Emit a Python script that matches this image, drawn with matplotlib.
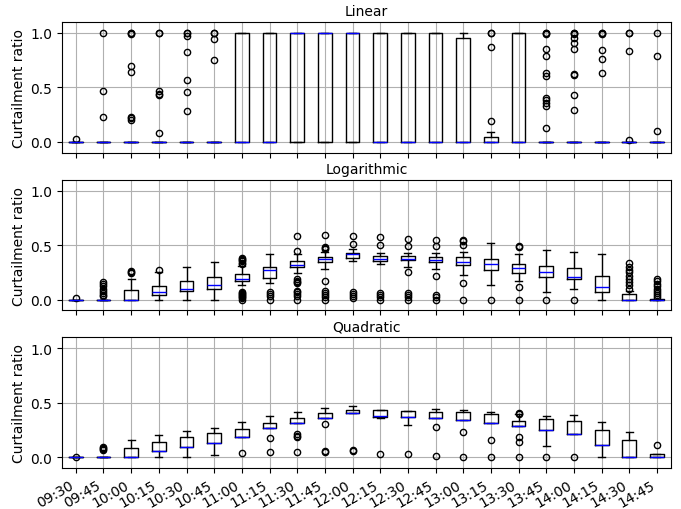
import matplotlib
matplotlib.use("Agg")
import matplotlib.pyplot as plt

times = ["09:30", "09:45", "10:00", "10:15", "10:30", "10:45", "11:00", "11:15",
         "11:30", "11:45", "12:00", "12:15", "12:30", "12:45", "13:00", "13:15",
         "13:30", "13:45", "14:00", "14:15", "14:30", "14:45"]

# Linear
lin_q1 = [0] * 22
lin_med = [0, 0, 0, 0, 0, 0, 0, 0, 1, 1, 1, 0, 0, 0, 0, 0, 0, 0, 0, 0, 0, 0]
lin_q3 = [0, 0, 0, 0, 0, 0, 1, 1, 1, 1, 1, 1, 1, 1, 0.955, 0.046, 1, 0, 0, 0, 0, 0]
lin_lo = [0] * 22
lin_hi = [0, 0, 0, 0, 0, 0, 1, 1, 1, 1, 1, 1, 1, 1, 1, 0.09, 1, 0, 0, 0, 0, 0]
lin_fliers = [
    [0.03],
    [1.0, 0.47, 0.23],
    [1.0, 1.0, 0.985, 0.70, 0.64, 0.23, 0.22, 0.20],
    [1.0, 1.0, 0.47, 0.44, 0.43, 0.08],
    [1.0, 1.0, 0.97, 0.82, 0.57, 0.46, 0.28],
    [1.0, 1.0, 0.94, 0.75],
    [], [], [], [], [], [], [], [], [],
    [1.0, 1.0, 0.87, 0.19],
    [],
    [1.0, 1.0, 0.99, 0.85, 0.79, 0.63, 0.60, 0.40, 0.38, 0.36, 0.33, 0.125],
    [1.0, 1.0, 0.985, 0.955, 0.91, 0.85, 0.62, 0.61, 0.43, 0.29],
    [1.0, 1.0, 0.985, 0.84, 0.76, 0.63],
    [1.0, 1.0, 0.83, 0.02],
    [1.0, 0.79, 0.10],
]

# Logarithmic
log_q1 = [0, 0, 0, 0.04, 0.08, 0.10, 0.17, 0.20, 0.30, 0.345, 0.385, 0.355, 0.36, 0.345,
          0.32, 0.27, 0.245, 0.205, 0.185, 0.07, 0, 0]
log_med = [0, 0, 0, 0.067, 0.098, 0.137, 0.19, 0.27, 0.317, 0.369, 0.415, 0.375, 0.375,
           0.365, 0.345, 0.323, 0.287, 0.253, 0.207, 0.113, 0, 0]
log_q3 = [0, 0, 0.085, 0.128, 0.168, 0.207, 0.235, 0.296, 0.357, 0.387, 0.43, 0.396, 0.40,
          0.387, 0.387, 0.372, 0.33, 0.305, 0.29, 0.216, 0.055, 0.005]
log_lo = [0, 0, 0, 0, 0, 0, 0.134, 0.155, 0.244, 0.28, 0.35, 0.33, 0.30, 0.28, 0.23, 0.134,
          0.168, 0.067, 0.10, 0, 0, 0]
log_hi = [0, 0, 0.19, 0.25, 0.30, 0.345, 0.31, 0.415, 0.42, 0.44, 0.46, 0.43, 0.43, 0.43,
          0.44, 0.515, 0.42, 0.457, 0.44, 0.418, 0.08, 0.005]
log_fliers = [
    [0.015],
    [0.16, 0.14, 0.12, 0.10, 0.08, 0.06, 0.04, 0.03],
    [0.26, 0.25, 0.24],
    [0.27],
    [], [],
    [0.38, 0.37, 0.36, 0.35, 0.34, 0.33, 0.07, 0.06, 0.05, 0.04, 0.03, 0.02, 0.01, 0.0],
    [0.07, 0.05, 0.03, 0.0],
    [0.585, 0.45, 0.19, 0.17, 0.16, 0.15, 0.08, 0.07, 0.05, 0.03, 0.0],
    [0.59, 0.48, 0.47, 0.46, 0.17, 0.08, 0.06, 0.04, 0.02, 0.0],
    [0.585, 0.51, 0.07, 0.05, 0.03, 0.01],
    [0.576, 0.50, 0.06, 0.04, 0.02, 0.0],
    [0.56, 0.49, 0.25, 0.06, 0.04, 0.02, 0.0],
    [0.55, 0.49, 0.22, 0.04, 0.02, 0.0],
    [0.55, 0.54, 0.50, 0.155, 0.0],
    [0.0],
    [0.49, 0.48, 0.113, 0.0],
    [0.0],
    [0.0],
    [],
    [0.34, 0.30, 0.27, 0.25, 0.22, 0.19, 0.16, 0.13, 0.10],
    [0.19, 0.17, 0.14, 0.12, 0.10, 0.08, 0.06, 0.04, 0.02],
]

# Quadratic
quad_q1 = [0, 0, 0, 0.058, 0.095, 0.128, 0.19, 0.266, 0.318, 0.364, 0.404, 0.373, 0.367,
           0.364, 0.345, 0.318, 0.284, 0.248, 0.217, 0.113, 0, 0]
quad_med = [0, 0, 0, 0.058, 0.095, 0.128, 0.19, 0.266, 0.318, 0.364, 0.407, 0.375, 0.367,
            0.364, 0.345, 0.318, 0.284, 0.248, 0.217, 0.113, 0, 0.003]
quad_q3 = [0, 0, 0.089, 0.144, 0.187, 0.226, 0.263, 0.318, 0.364, 0.404, 0.437, 0.431,
           0.428, 0.419, 0.413, 0.394, 0.33, 0.352, 0.333, 0.254, 0.156, 0.028]
quad_lo = [0, 0, 0, 0, 0, 0.018, 0.19, 0.266, 0.318, 0.364, 0.404, 0.36, 0.294, 0.364,
           0.345, 0.318, 0.284, 0.10, 0.217, 0, 0, 0]
quad_hi = [0, 0, 0.162, 0.208, 0.24, 0.272, 0.324, 0.382, 0.416, 0.453, 0.474, 0.431,
           0.428, 0.446, 0.437, 0.419, 0.395, 0.379, 0.391, 0.321, 0.229, 0.028]
quad_fliers = [
    [0.0],
    [0.098, 0.085, 0.075, 0.064],
    [], [], [], [],
    [0.043],
    [0.18, 0.052],
    [0.21, 0.20, 0.19, 0.05],
    [0.309, 0.058, 0.052],
    [0.064, 0.058],
    [0.034],
    [0.032],
    [0.278, 0.015],
    [0.229, 0.0],
    [0.162, 0.0],
    [0.404, 0.398, 0.19, 0.144, 0.0],
    [0.0],
    [0.0],
    [], [],
    [0.11],
]

panels = [
    ("Linear", lin_q1, lin_med, lin_q3, lin_lo, lin_hi, lin_fliers),
    ("Logarithmic", log_q1, log_med, log_q3, log_lo, log_hi, log_fliers),
    ("Quadratic", quad_q1, quad_med, quad_q3, quad_lo, quad_hi, quad_fliers),
]

fig, axes = plt.subplots(3, 1, figsize=(6.81, 5.10), dpi=100, sharex=True)
fig.subplots_adjust(left=0.091, right=0.985, top=0.955, bottom=0.08, hspace=0.206)

for ax, (title, q1, med, q3, lo, hi, fl) in zip(axes, panels):
    stats = []
    for i in range(len(times)):
        stats.append(dict(q1=q1[i], med=med[i], q3=q3[i], whislo=lo[i], whishi=hi[i],
                          fliers=fl[i]))
    ax.bxp(stats, positions=range(1, len(times) + 1), widths=0.5,
           boxprops=dict(color="black", linewidth=1),
           whiskerprops=dict(color="black", linewidth=1),
           capprops=dict(color="black", linewidth=1),
           medianprops=dict(color="blue", linewidth=1),
           flierprops=dict(marker="o", markerfacecolor="none", markeredgecolor="black",
                           markersize=4.5))
    ax.set_ylim(-0.1, 1.1)
    ax.set_yticks([0.0, 0.5, 1.0])
    ax.set_title(title, fontsize=10, pad=5)
    ax.set_ylabel("Curtailment ratio", fontsize=10, labelpad=3)
    ax.grid(True, color="#b0b0b0", linewidth=0.8)
    ax.tick_params(labelsize=10)

axes[-1].set_xticks(range(1, len(times) + 1))
axes[-1].set_xticklabels(times, rotation=30, ha="right")

fig.savefig("out.png", dpi=100)
